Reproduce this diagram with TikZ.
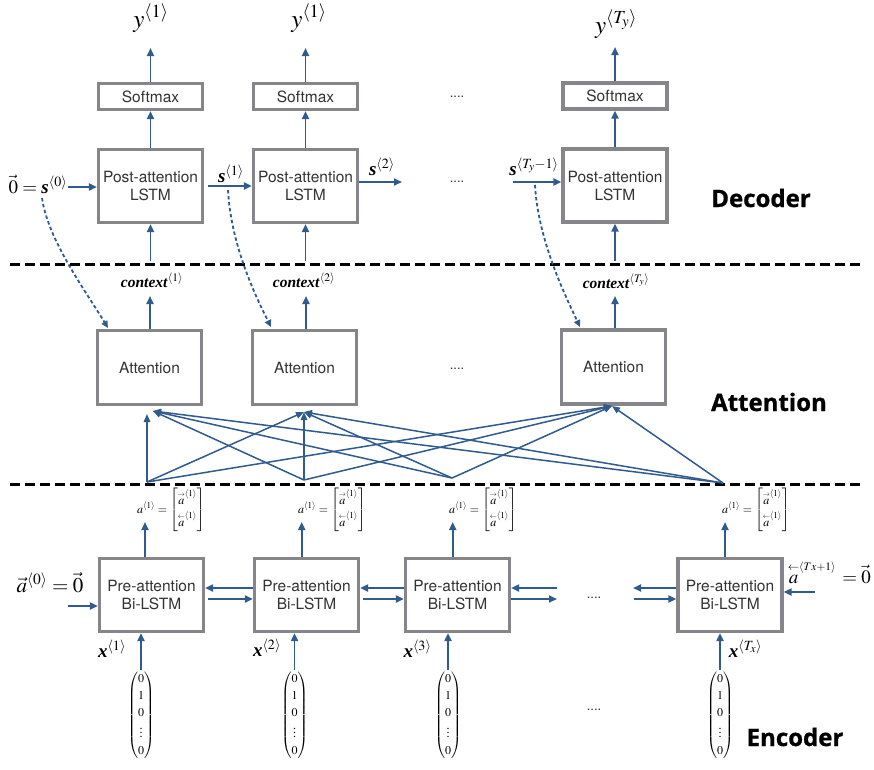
\documentclass[tikz,border=0pt]{standalone}
\usepackage{amsmath}
\usepackage{mathptmx}
\usepackage{fontspec}
\setmainfont{Liberation Serif}
\newfontfamily\boxfont{TeX Gyre Heros}
\newfontfamily\secfont[FakeBold=0.9]{Open Sans}
\usetikzlibrary{arrows.meta,calc}
\definecolor{ablue}{HTML}{2F5B8E}
\definecolor{bgray}{HTML}{85858A}
\definecolor{btext}{HTML}{333333}
\newcommand{\lvec}[1]{\overset{\scriptscriptstyle\leftarrow}{#1}}
\newcommand{\rvec}[1]{\overset{\scriptscriptstyle\rightarrow}{#1}}
\newcommand{\bi}[1]{\textbf{\textit{#1}}}
\tikzset{
  box/.style={draw=bgray, line width=3.2pt, fill=white, text=btext,
    font=\boxfont\fontsize{15.5}{18}\selectfont, align=center, inner sep=0pt, minimum width=104pt},
  arr/.style={draw=ablue, line width=1.9pt, -{Triangle[length=8pt,width=7pt]}},
  aline/.style={draw=ablue, line width=1.5pt, -{Triangle[length=8pt,width=6.5pt]}},
  dotarr/.style={draw=ablue, line width=1.8pt, dash pattern=on 3.5pt off 2.5pt, -{Triangle[length=7pt,width=6.5pt]}},
  sepline/.style={line width=3pt, dash pattern=on 10pt off 5pt},
  dotsnode/.style={font=\boxfont\fontsize{13}{13}\selectfont, text=btext, inner sep=0pt},
  seclab/.style={font=\secfont\bfseries\fontsize{24}{24}\selectfont, inner sep=0pt},
  ylab/.style={font=\fontsize{25}{25}\selectfont, inner sep=0pt},
  slab/.style={font=\fontsize{19}{19}\selectfont, inner sep=0pt},
  ctxlab/.style={font=\fontsize{15.5}{15.5}\selectfont, inner sep=0pt},
  smalla/.style={font=\fontsize{12}{13}\selectfont, inner sep=0pt},
  biglab/.style={font=\fontsize{21}{21}\selectfont, inner sep=0pt},
  veclab/.style={font=\fontsize{12}{14}\selectfont, inner sep=0.5pt},
}
\newcommand{\avec}{$a^{\langle 1\rangle}=\begin{bmatrix}\rvec{a}^{\langle 1\rangle}\\[4pt] \lvec{a}^{\langle 1\rangle}\end{bmatrix}$}
\newcommand{\onehot}{$\renewcommand{\arraystretch}{1.22}\begin{pmatrix}0\\1\\0\\\vdots\\0\end{pmatrix}$}
\begin{document}
\begin{tikzpicture}[x=1pt,y=-1pt]
\useasboundingbox (0,0) rectangle (874,769);

% ---------------- Decoder ----------------
\node[ylab, anchor=base] (y1) at (151,27) {$y^{\langle 1\rangle}$};
\node[ylab, anchor=base] (y2) at (309,27) {$y^{\langle 1\rangle}$};
\node[ylab, anchor=base] (y3) at (616,33) {$y^{\langle T_y\rangle}$};

\node[box, minimum height=26pt] (sm1) at (150.5,96.5) {Softmax};
\node[box, minimum height=26pt] (sm2) at (305.5,96.5) {Softmax};
\node[box, minimum height=26pt] (sm3) at (615,96) {Softmax};

\node[box, minimum height=73pt] (post1) at (150.5,186) {Post-attention\\LSTM};
\node[box, minimum height=73pt] (post2) at (305.5,186) {Post-attention\\LSTM};
\node[box, minimum height=73pt] (post3) at (615,185.5) {Post-attention\\LSTM};

\coordinate (yt1) at (150.5,48);
\coordinate (yt2) at (305.5,48);
\coordinate (yt3) at (615,47);
\draw[arr] (sm1) -- (yt1);
\draw[arr] (sm2) -- (yt2);
\draw[arr] (sm3) -- (yt3);
\draw[arr] (post1) -- (sm1);
\draw[arr] (post2) -- (sm2);
\draw[arr] (post3) -- (sm3);

\node[dotsnode] (dd1) at (457,97) {....};
\node[dotsnode] (dd2) at (457,182) {....};

\node[slab, anchor=base] (s0) at (38,193) {$\vec{0}={}$\bi{s}$^{\langle 0\rangle}$};
\node[slab, anchor=base] (s1) at (231,182) {\bi{s}$^{\langle 1\rangle}$};
\node[slab, anchor=base] (s2) at (382,175) {\bi{s}$^{\langle 2\rangle}$};
\node[slab, anchor=base] (s3) at (534,175) {\bi{s}$^{\langle T_y-1\rangle}$};

\coordinate (s0s) at (68,187);
\draw[arr] (s0s) -- (s0s -| post1.west);
\draw[arr, shorten <=4pt] (post1) -- (post2);
\coordinate (s2e) at (402,182);
\draw[arr] (s2e -| post2.east) -- (s2e);
\coordinate (s3s) at (513,182);
\draw[arr] (s3s) -- (s3s -| post3.west);

\coordinate (pi1) at (150.5,261);
\coordinate (pi2) at (305.5,261);
\coordinate (pi3) at (615,261);
\draw[arr] (pi1) -- (pi1 |- post1.south);
\draw[arr] (pi2) -- (pi2 |- post2.south);
\draw[arr] (pi3) -- (pi3 |- post3.south);

\node[seclab] (dec) at (761,198) {Decoder};

% separators
\draw[sepline] (10,264) -- (860,264);
\draw[sepline] (10,484) -- (860,484);

% ---------------- Attention ----------------
\node[box, minimum height=74pt] (att1) at (149.5,367.5) {Attention};
\node[box, minimum height=74pt] (att2) at (304.5,367.5) {Attention};
\node[box, minimum height=74pt] (att3) at (613.5,367) {Attention};
\node[dotsnode] (dd3) at (457,369) {....};

\node[ctxlab, anchor=base] (c1) at (152,287) {\bi{context}$^{\langle 1\rangle}$};
\node[ctxlab, anchor=base] (c2) at (304,287) {\bi{context}$^{\langle 2\rangle}$};
\node[ctxlab, anchor=base] (c3) at (616,288) {\bi{context}$^{\langle T_y\rangle}$};

\coordinate (ct1) at (150,296);
\coordinate (ct2) at (306,296);
\coordinate (ct3) at (615,296);
\draw[arr] (ct1 |- att1.north) -- (ct1);
\draw[arr] (ct2 |- att2.north) -- (ct2);
\draw[arr] (ct3 |- att3.north) -- (ct3);

% dotted state connectors
\coordinate (d0) at (42,198);
\coordinate (d1) at (228,190);
\coordinate (d2) at (535,185);
\coordinate (dt1) at (108,328);
\coordinate (dt2) at (271,327);
\coordinate (dt3) at (580,327);
\draw[dotarr] (d0) .. controls (48,240) and (85,290) .. (dt1);
\draw[dotarr] (d1) .. controls (231,245) and (255,295) .. (dt2);
\draw[dotarr] (d2) .. controls (538,240) and (565,295) .. (dt3);

\node[seclab] (attl) at (769,402) {Attention};

% attention inputs
\coordinate (S1) at (147,482);
\coordinate (S2) at (304,480);
\coordinate (S3) at (452,478);
\coordinate (S4) at (723,483);
\coordinate (T1) at (153,411);
\coordinate (T1v) at (147,414);
\coordinate (T2) at (304,412);
\coordinate (T3) at (612,406);
\draw[aline] (S1) -- (T1v);
\draw[aline] (S1) -- (T2);
\draw[aline] (S1) -- (T3);
\draw[aline] (S2) -- (T1);
\draw[aline] (S2) -- (T2);
\draw[aline] (S2) -- (T3);
\draw[aline] (S3) -- (T1);
\draw[aline] (S3) -- (T2);
\draw[aline] (S3) -- (T3);
\draw[aline] (S4) -- (T1);
\draw[aline] (S4) -- (T2);
\draw[aline] (S4) -- (T3);

% ---------------- Encoder ----------------
\node[box, minimum height=73pt] (pre1) at (151.5,595) {Pre-attention\\Bi-LSTM};
\node[box, minimum height=73pt] (pre2) at (306.5,595) {Pre-attention\\Bi-LSTM};
\node[box, minimum height=73pt] (pre3) at (457.5,595) {Pre-attention\\Bi-LSTM};
\node[box, minimum height=73pt] (pre4) at (730,595) {Pre-attention\\Bi-LSTM};

\node[smalla, anchor=west] (al1) at (137,510) {\avec};
\node[smalla, anchor=west] (al2) at (298,510) {\avec};
\node[smalla, anchor=west] (al3) at (449,510) {\avec};
\node[smalla, anchor=west] (al4) at (722,510) {\avec};

\coordinate (at1) at (145,522);
\coordinate (at2) at (301.7,522);
\coordinate (at3) at (452.7,522);
\coordinate (at4) at (725,522);
\draw[arr] (at1 |- pre1.north) -- (at1);
\draw[arr] (at2 |- pre2.north) -- (at2);
\draw[arr] (at3 |- pre3.north) -- (at3);
\draw[arr] (at4 |- pre4.north) -- (at4);

\coordinate (rl) at (0,588);
\coordinate (rr) at (0,599);
\draw[arr] (pre2.west |- rl) -- (pre1.east |- rl);
\draw[arr, shorten <=3pt] (pre1.east |- rr) -- (pre2.west |- rr);
\draw[arr] (pre3.west |- rl) -- (pre2.east |- rl);
\draw[arr, shorten <=3pt] (pre2.east |- rr) -- (pre3.west |- rr);
\coordinate (dl) at (557,588);
\coordinate (dr) at (557,599);
\draw[arr] (dl) -- (pre3.east |- dl);
\draw[arr] (pre3.east |- dr) -- (dr);
\coordinate (el) at (633,588);
\coordinate (er) at (634,599);
\draw[arr] (pre4.west |- el) -- (el);
\draw[arr] (er) -- (er -| pre4.west);

\node[dotsnode] (dd4) at (594,598) {....};
\node[dotsnode] (dd5) at (594,710) {....};

\node[biglab, anchor=base] (a0) at (50,592) {$\vec{a}^{\langle 0\rangle}=\vec{0}$};
\coordinate (a0s) at (68,606);
\draw[arr] (a0s) -- (a0s -| pre1.west);
\node[font=\fontsize{19}{19}\selectfont, inner sep=0pt, anchor=base east] (aT) at (871,583) {$\lvec{a}^{\scriptscriptstyle\langle Tx+1\rangle}\,=\vec{0}$};
\coordinate (aTs) at (815,592);
\draw[arr] (aTs) -- (aTs -| pre4.east);

\node[slab, anchor=base] (x1) at (112,657) {\bi{x}$^{\langle 1\rangle}$};
\node[slab, anchor=base] (x2) at (267,656) {\bi{x}$^{\langle 2\rangle}$};
\node[slab, anchor=base] (x3) at (417.5,657) {\bi{x}$^{\langle 3\rangle}$};
\node[slab, anchor=base] (x4) at (745.5,657) {\bi{x}$^{\langle T_x\rangle}$};

\node[veclab] (v1) at (141,715) {\onehot};
\node[veclab] (v2) at (294.5,715) {\onehot};
\node[veclab] (v3) at (448,715) {\onehot};
\node[veclab] (v4) at (720,715) {\onehot};
\draw[arr] (v1) -- (v1 |- pre1.south);
\draw[arr] (v2) -- (v2 |- pre2.south);
\draw[arr] (v3) -- (v3 |- pre3.south);
\draw[arr] (v4) -- (v4 |- pre4.south);

\node[seclab] (enc) at (795,737) {Encoder};
\end{tikzpicture}
\end{document}
